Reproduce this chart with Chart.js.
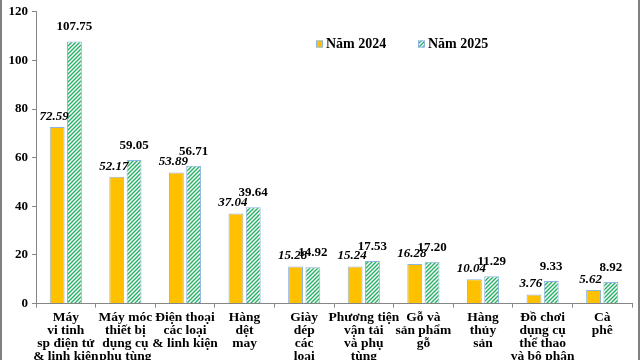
<!DOCTYPE html>
<html>
<head>
<meta charset="utf-8">
<script src="https://cdn.jsdelivr.net/npm/chart.js@4/dist/chart.umd.min.js"></script>
<style>
  html, body { margin: 0; padding: 0; background: #fff; overflow: hidden; }
  #wrap {
    width: 640px; height: 360px; overflow: hidden;
    border-left: 2px solid #808080; border-right: 2px solid #808080;
    box-sizing: border-box;
  }
  #box { width: 636px; height: 366px; }
</style>
</head>
<body>
<div id="wrap"><div id="box"><canvas id="chart"></canvas></div></div>
<script>
const categories = [
  ["Máy", "vi tinh", "sp điện tử", "& linh kiện"],
  ["Máy móc", "thiết bị", "dụng cụ", "phụ tùng"],
  ["Điện thoại", "các loại", "& linh kiện"],
  ["Hàng", "dệt", "may"],
  ["Giày", "dép", "các", "loại"],
  ["Phương tiện", "vận tải", "và phụ", "tùng"],
  ["Gỗ và", "sản phẩm", "gỗ"],
  ["Hàng", "thủy", "sản"],
  ["Đồ chơi", "dụng cụ", "thể thao", "và bộ phận"],
  ["Cà", "phê"]
];
const values2024 = [72.59, 52.17, 53.89, 37.04, 15.28, 15.24, 16.28, 10.04, 3.76, 5.62];
const values2025 = [107.75, 59.05, 56.71, 39.64, 14.92, 17.53, 17.20, 11.29, 9.33, 8.92];
const yTicks = [0, 20, 40, 60, 80, 100, 120];

const serif = "'Liberation Serif', 'Times New Roman', serif";

// green diagonal hatch for 2025
function makeHatch() {
  const c = document.createElement("canvas");
  c.width = 4; c.height = 4;
  const g = c.getContext("2d");
  g.fillStyle = "#ffffff";
  g.fillRect(0, 0, 4, 4);
  g.strokeStyle = "#22b062";
  g.lineWidth = 1.4;
  g.beginPath();
  g.moveTo(-1, 5); g.lineTo(5, -1);
  g.moveTo(-1, 1); g.lineTo(1, -1);
  g.moveTo(3, 5); g.lineTo(5, 3);
  g.stroke();
  return g.createPattern(c, "repeat");
}
const hatch = makeHatch();

const valueLabels = {
  id: "valueLabels",
  afterDatasetsDraw(chart) {
    const ctx = chart.ctx;
    ctx.save();
    ctx.fillStyle = "#000";
    ctx.textAlign = "center";
    ctx.textBaseline = "bottom";
    chart.data.datasets.forEach((ds, i) => {
      const meta = chart.getDatasetMeta(i);
      ctx.font = (i === 0 ? "italic bold " : "bold ") + "13px " + serif;
      const lift = i === 0 ? 4 : 8;
      meta.data.forEach((bar, j) => {
        ctx.fillText(ds.data[j].toFixed(2), bar.x - (i === 0 ? 3 : 0), bar.y - lift);
      });
    });
    ctx.restore();
  }
};

const legendBox = {
  id: "legendBox",
  afterDraw(chart) {
    const ctx = chart.ctx;
    ctx.save();
    ctx.font = "bold 14px " + serif;
    ctx.textBaseline = "middle";
    ctx.fillStyle = "#000";
    let x = 314;
    const y = 44;
    chart.data.datasets.forEach(ds => {
      ctx.fillStyle = ds.backgroundColor;
      ctx.fillRect(x, y - 3.5, 7, 7);
      ctx.strokeStyle = "#8eb4e3";
      ctx.lineWidth = 1;
      ctx.strokeRect(x + 0.5, y - 3, 6, 6);
      ctx.fillStyle = "#000";
      ctx.fillText(ds.label, x + 10, y);
      x += 102;
    });
    ctx.restore();
  }
};

new Chart(document.getElementById("chart"), {
  type: "bar",
  data: {
    labels: categories,
    datasets: [
      {
        label: "Năm 2024",
        data: values2024,
        backgroundColor: "#ffc000",
        borderColor: "#8eb4e3",
        borderWidth: 1
      },
      {
        label: "Năm 2025",
        data: values2025,
        backgroundColor: hatch,
        borderColor: "#8eb4e3",
        borderWidth: 1
      }
    ]
  },
  options: {
    responsive: true,
    maintainAspectRatio: false,
    animation: false,
    layout: { padding: { top: 2, right: 6, left: 0, bottom: 0 } },
    datasets: { bar: { categoryPercentage: 0.58, barPercentage: 0.86 } },
    plugins: {
      legend: { display: false },
      tooltip: { enabled: false }
    },
    scales: {
      x: {
        grid: { drawOnChartArea: false, tickLength: 4, color: "#868686" },
        border: { color: "#868686" },
        ticks: {
          color: "#000",
          font: { family: serif, size: 13.5, weight: "bold", lineHeight: 0.97 },
          padding: 3,
          maxRotation: 0,
          autoSkip: false
        }
      },
      y: {
        min: 0,
        max: 120,
        afterBuildTicks(axis) { axis.ticks = yTicks.map(v => ({ value: v })); },
        afterFit(axis) { axis.width = 34; },
        grid: { drawOnChartArea: false, tickLength: 4, color: "#868686" },
        border: { color: "#868686" },
        ticks: {
          color: "#000",
          font: { family: serif, size: 13, weight: "bold" },
          padding: 4
        }
      }
    }
  },
  plugins: [valueLabels, legendBox]
});
</script>
</body>
</html>
